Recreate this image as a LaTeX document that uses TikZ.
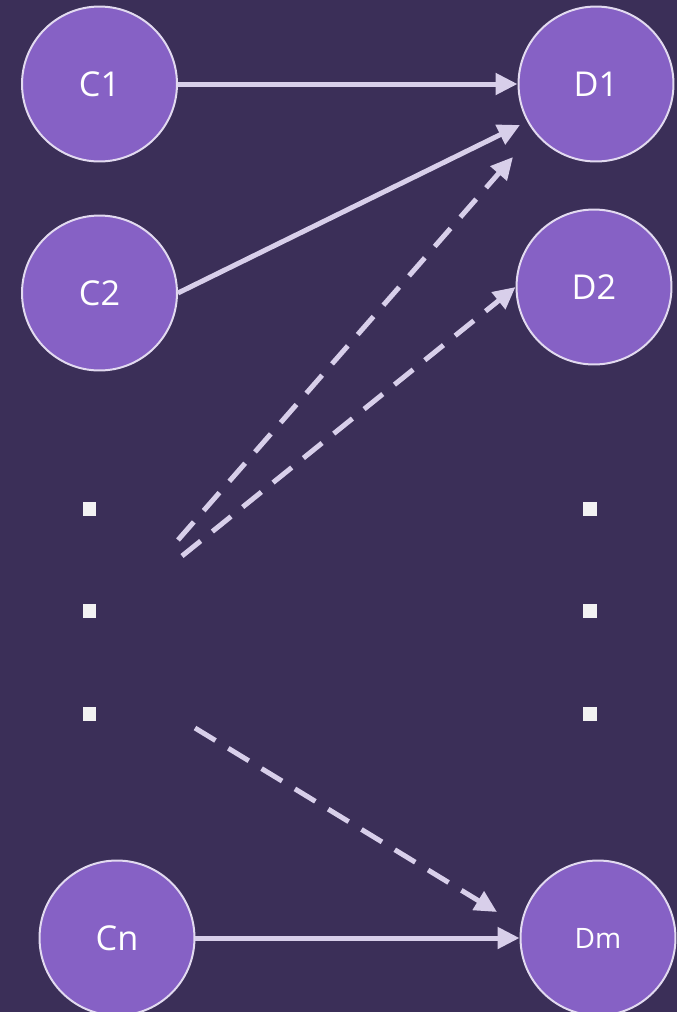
\documentclass[tikz,border=0pt]{standalone}
\usepackage{fontspec}
\setmainfont{Open Sans}
\usepackage{xcolor}
\usetikzlibrary{arrows.meta}
\definecolor{bgpurple}{HTML}{3B2F58}
\definecolor{nodepurple}{HTML}{8661C5}
\definecolor{rimlilac}{HTML}{E2DAF0}
\definecolor{arrowlilac}{HTML}{D8CFEA}
\definecolor{dotwhite}{HTML}{F2F2F2}

\begin{document}
\begin{tikzpicture}[x=0.02cm,y=-0.02cm,>={Triangle[length=0.44cm,width=0.42cm]},
  setnode/.style={circle,draw=rimlilac,line width=0.04cm,fill=nodepurple,
    minimum size=3.1cm,inner sep=0pt,text=white,font=\fontsize{19.5}{22}\selectfont},
  link/.style={->,draw=arrowlilac,line width=0.1cm},
  dlink/.style={link,dash pattern=on 0.48cm off 0.3cm},
  ellipsis/.style={fill=dotwhite,minimum size=0.28cm,inner sep=0pt}]
\fill[bgpurple](0,0)rectangle(677,1012);
\useasboundingbox(0,0)rectangle(677,1012);
% left column
\node[setnode](c1)at(99.5,84){C1};
\node[setnode](c2)at(99.5,293){C2};
\node[setnode](cn)at(117,938){Cn};
% right column
\node[setnode](d1)at(596,84){D1};
\node[setnode](d2)at(594,287){D2};
\node[setnode,font=\fontsize{16}{19}\selectfont](dm)at(598,938){Dm};
% dots
\foreach \y [count=\i] in {508.5,610.5,713.5}{
  \node[ellipsis](l\i)at(89.5,\y){};
  \node[ellipsis](r\i)at(590,\y){};
}
% free ends of the arrows
\coordinate(s1)at(178,540);
\coordinate(s2)at(182,556);
\coordinate(s3)at(195,728);
\coordinate(t1)at(513,157);
\coordinate(t2)at(520,125);
\coordinate(t3)at(497,912);
\draw[link](c1)--(d1);
\draw[link](c2.east)--(t2);
\draw[link](cn)--(dm);
\draw[dlink](s1)--(t1);
\draw[dlink](s2)--(d2.west);
\draw[dlink](s3)--(t3);
\end{tikzpicture}
\end{document}
